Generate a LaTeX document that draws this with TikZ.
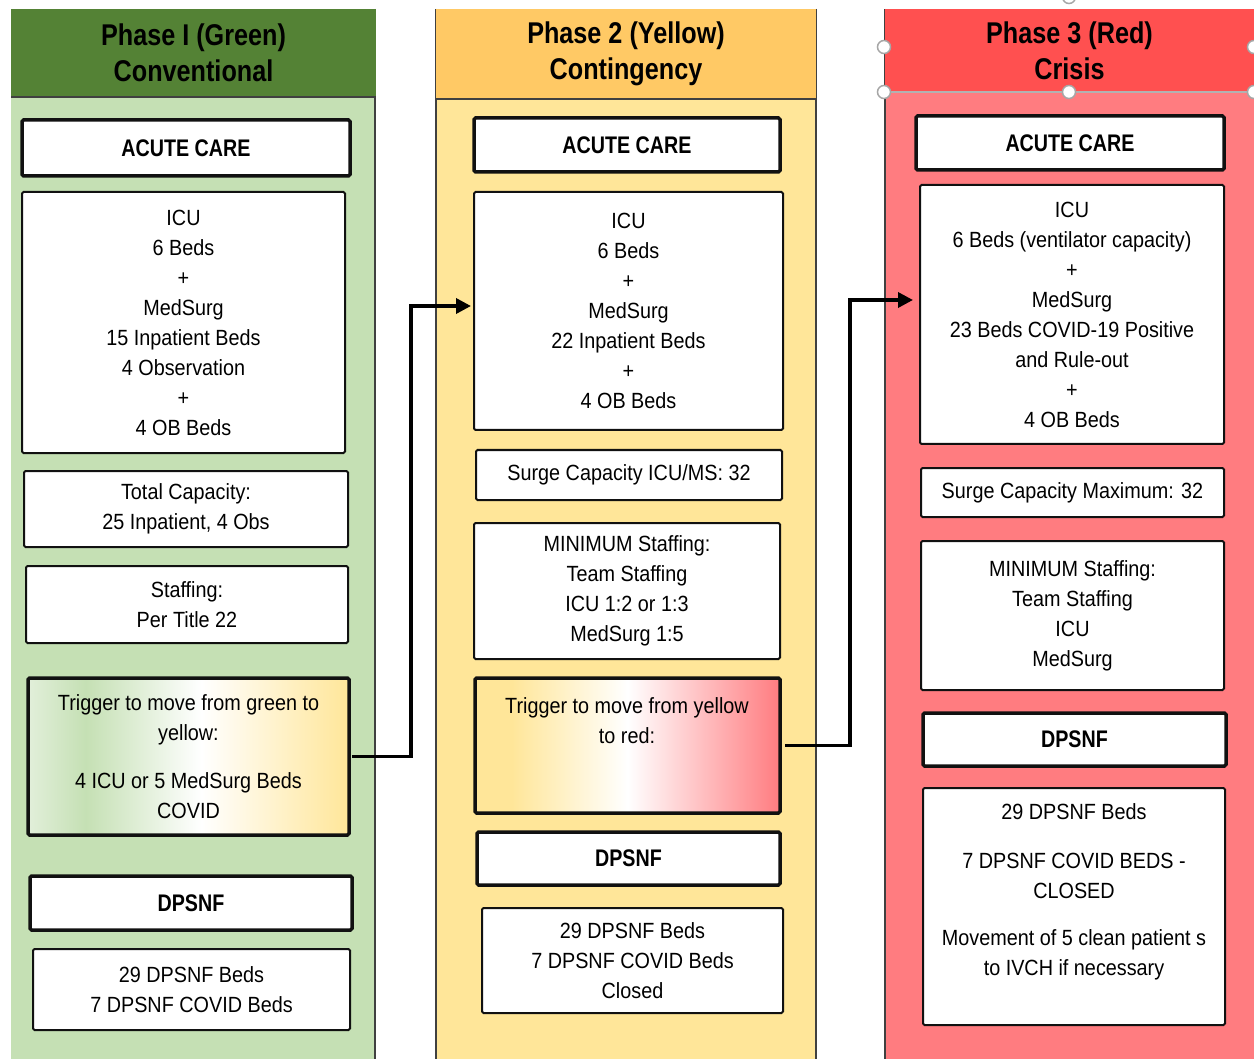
\documentclass[tikz,border=0pt]{standalone}
\usepackage{fontspec}
\setmainfont{Liberation Sans}
\newfontfamily\bodyfont[FakeStretch=0.9]{Liberation Sans}
\newfontfamily\lblfont[FakeStretch=0.82]{Liberation Sans}
\newfontfamily\headfont[FakeStretch=0.84]{Liberation Sans}
\usetikzlibrary{arrows.meta}
\definecolor{hgreen}{HTML}{548235}
\definecolor{bgreen}{HTML}{C5E0B4}
\definecolor{pgreen}{HTML}{E2EFDA}
\definecolor{hyellow}{HTML}{FFC965}
\definecolor{byellow}{HTML}{FFE699}
\definecolor{hred}{HTML}{FF5050}
\definecolor{bred}{HTML}{FF7C80}
\definecolor{colline}{HTML}{404040}
\definecolor{boxline}{HTML}{111111}
\pgfdeclarehorizontalshading{gyshade}{100bp}{color(0bp)=(pgreen); color(25bp)=(pgreen); color(34bp)=(bgreen); color(52bp)=(white); color(75bp)=(byellow); color(100bp)=(byellow)}
\pgfdeclarehorizontalshading{yrshade}{100bp}{color(0bp)=(byellow); color(25bp)=(byellow); color(31bp)=(byellow); color(50bp)=(white); color(75bp)=(bred); color(100bp)=(bred)}
\tikzset{
  header/.style={minimum width=#1, inner sep=0pt, outer sep=0pt, align=center,
    font=\headfont\bfseries\fontsize{30}{36}\selectfont},
  thinbox/.style={draw=boxline, line width=2pt, fill=white, rounded corners=1.5pt,
    inner sep=0pt, outer sep=0pt, align=center, font=\bodyfont\fontsize{22}{30}\selectfont},
  thickbox/.style={thinbox, line width=3.5pt},
  lblbox/.style={thickbox, font=\lblfont\bfseries\fontsize{24}{30}\selectfont},
  txt/.style={align=center, inner sep=0pt, font=\bodyfont\fontsize{22}{30}\selectfont},
  conn/.style={draw=black, line width=3.5pt, -{Triangle[length=15pt,width=15pt]}},
  handle/.style={circle, draw=gray!70, fill=white, line width=1.5pt, minimum size=13pt, inner sep=0pt},
}
\begin{document}
\begin{tikzpicture}[x=1pt,y=-1pt]
\useasboundingbox (0,0) rectangle (1254,1059);
\fill[white] (0,0) rectangle (1254,1059);
% column bodies
\fill[bgreen] (11,97) rectangle (375,1059);
\draw[colline, line width=1.2pt] (375,9) -- (375,1059);
\fill[byellow] (436,99) rectangle (816,1059);
\draw[colline, line width=1.2pt] (436,9) -- (436,1059) (816,9) -- (816,1059);
\fill[bred] (885,92) rectangle (1254,1059);
\draw[colline, line width=1.2pt] (885,9) -- (885,1059);
% headers
\node[header=365, fill=hgreen, minimum height=88] (h1) at (193.5,53) {Phase I (Green)\\Conventional};
\node[header=380, fill=hyellow, minimum height=90] (h2) at (626,54) {Phase 2 (Yellow)\\Contingency};
\node[header=369, fill=hred, minimum height=83] (h3) at (1069.5,50.5) {Phase 3 (Red)\\Crisis};
\draw[colline, line width=1.2pt] (h1.south west) -- (h1.south east);
\draw[colline, line width=1.2pt] (h2.south west) -- (h2.south east);
% selection frame on red header
\draw[gray!60, line width=1.2pt] (884,92) -- (1254,92);
\foreach \n/\px/\py in {s1/884/47, s2/884/92, s3/1069/92, s4/1254/47, s5/1254/92, s6/1069/-3}
  \node[handle] (\n) at (\px,\py) {};
% column 1
\node[lblbox, minimum width=328, minimum height=56] (ac1) at (186,148) {ACUTE CARE};
\node[thinbox, minimum width=323, minimum height=261] (icu1) at (183.5,322.5)
  {ICU\\6 Beds\\+\\MedSurg\\15 Inpatient Beds\\4 Observation\\+\\4 OB Beds};
\node[thinbox, minimum width=324, minimum height=76] (tot1) at (186,509) {Total Capacity:\\25 Inpatient, 4 Obs};
\node[thinbox, minimum width=322, minimum height=77] (stf1) at (187,604.5) {Staffing:\\Per Title 22};
\node[thickbox, shading=gyshade, minimum width=321, minimum height=157] (trg1) at (188.5,756.5)
  {Trigger to move from green to\\yellow:\\[18pt]4 ICU or 5 MedSurg Beds\\COVID};
\node[lblbox, minimum width=322, minimum height=54] (dp1) at (191,903) {DPSNF};
\node[thinbox, minimum width=317, minimum height=81] (dpb1) at (191.5,989.5) {29 DPSNF Beds\\7 DPSNF COVID Beds};
% column 2
\node[lblbox, minimum width=306, minimum height=54] (ac2) at (627,145) {ACUTE CARE};
\node[thinbox, minimum width=309, minimum height=238] (icu2) at (628.5,311)
  {ICU\\6 Beds\\+\\MedSurg\\22 Inpatient Beds\\+\\4 OB Beds};
\node[thinbox, minimum width=306, minimum height=50] (sg2) at (629,475) {Surge Capacity ICU/MS: 32};
\node[thinbox, minimum width=306, minimum height=136] (min2) at (627,591)
  {MINIMUM Staffing:\\Team Staffing\\ICU 1:2 or 1:3\\MedSurg 1:5};
\node[thickbox, shading=yrshade, minimum width=305, minimum height=135] (trg2) at (627.5,745.5) {};
\node[txt] (trg2t) at (627,721) {Trigger to move from yellow\\to red:};
\node[lblbox, minimum width=303, minimum height=53] (dp2) at (628.5,858.5) {DPSNF};
\node[thinbox, minimum width=301, minimum height=105] (dpb2) at (632.5,960.5)
  {29 DPSNF Beds\\7 DPSNF COVID Beds\\Closed};
% column 3
\node[lblbox, minimum width=308, minimum height=54] (ac3) at (1070,143) {ACUTE CARE};
\node[thinbox, minimum width=304, minimum height=259] (icu3) at (1072,314.5)
  {ICU\\6 Beds (ventilator capacity)\\+\\MedSurg\\23 Beds COVID-19 Positive\\and Rule-out\\+\\4 OB Beds};
\node[thinbox, minimum width=303, minimum height=49] (sg3) at (1072.5,492.5) {Surge Capacity Maximum: 32};
\node[thinbox, minimum width=303, minimum height=149] (min3) at (1072.5,615.5)
  {MINIMUM Staffing:\\Team Staffing\\ICU\\MedSurg};
\node[lblbox, minimum width=303, minimum height=53] (dp3) at (1074.5,739.5) {DPSNF};
\node[thinbox, minimum width=302, minimum height=237] (dpb3) at (1074,906.5) {};
\node[txt] (dpb3t) at (1074,892)
  {29 DPSNF Beds\\[19pt]7 DPSNF COVID BEDS -\\CLOSED\\[17pt]Movement of 5 clean patient s\\to IVCH if necessary};
% connectors
\coordinate (b1) at (411,306);
\coordinate (a1) at (471,306);
\coordinate (b2) at (850,300);
\coordinate (a2) at (913,300);
\draw[conn] ([xshift=3pt]trg1.east) -| (b1) -- (a1);
\draw[conn] ([xshift=5pt]trg2.east) -| (b2) -- (a2);
\end{tikzpicture}
\end{document}
